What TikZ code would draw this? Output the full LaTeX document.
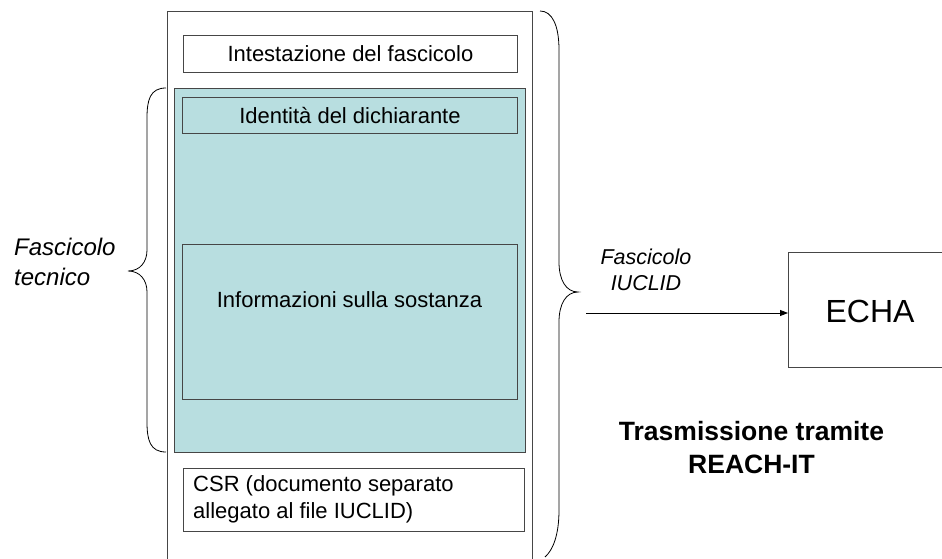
\documentclass[tikz,border=0pt]{standalone}
\usepackage{fontspec}
\setmainfont{Liberation Sans}
\usetikzlibrary{arrows.meta}
\definecolor{tealfill}{RGB}{184,222,224}
\definecolor{edgegray}{RGB}{70,70,70}
\begin{document}
\begin{tikzpicture}[x=1pt,y=-1pt,
  box/.style={draw=edgegray, line width=0.9pt, inner sep=0pt, anchor=north west},
  boxtext/.style={font=\fontsize{22}{27}\selectfont, inner sep=0pt},
  lab/.style={font=\fontsize{24}{30}\selectfont\itshape, inner sep=0pt, align=left},
  brace/.style={draw=black, line width=0.8pt},
  conn/.style={draw=black, line width=0.9pt, -{Triangle[length=8pt,width=6pt]}}]
\clip (0,0) rectangle (942,559);
\fill[white] (0,0) rectangle (942,559);
% outer box
\node[box, minimum width=365pt, minimum height=560pt] (outer) at (167,11) {};
% header
\node[box, minimum width=334pt, minimum height=37pt] (head) at (183,35) {};
\node[boxtext] (headt) at (head.center) {Intestazione del fascicolo};
% teal area
\node[box, fill=tealfill, minimum width=351pt, minimum height=364pt] (teal) at (174,88) {};
\node[box, minimum width=335pt, minimum height=36pt] (ident) at (182,97) {};
\node[boxtext] (identt) at (ident.center) {Identità del dichiarante};
\node[box, minimum width=335pt, minimum height=155pt] (info) at (182,244) {};
\node[boxtext] (infot) at (349.5,300) {Informazioni sulla sostanza};
% CSR
\node[box, minimum width=341pt, minimum height=63pt] (csr) at (183,468) {};
\node[boxtext, anchor=west, align=left] (csrt) at (193,499.5) {CSR (documento separato\\allegato al file IUCLID)};
% left brace
\draw[brace] (166,88) .. controls (150,88) and (147,100) .. (147,118)
  -- (147,250) .. controls (147,262) and (140,271) .. (128,271)
  .. controls (140,271) and (147,280) .. (147,292)
  -- (147,422) .. controls (147,440) and (150,452) .. (166,452);
\node[lab, anchor=west] (ftec) at (14,262) {Fascicolo\\tecnico};
% right brace
\draw[brace] (540,11) .. controls (552,11) and (559,25) .. (559,50)
  -- (559,262) .. controls (559,280) and (566,292) .. (578,292)
  .. controls (566,292) and (559,304) .. (559,322)
  -- (559,510) .. controls (559,535) and (553,550) .. (545,557);
% arrow and ECHA
\node[box, minimum width=170pt, minimum height=115pt] (echa) at (788,252) {};
\node[font=\fontsize{32}{36}\selectfont, inner sep=0pt] (echat) at (870,311) {ECHA};
\coordinate (src) at (586,313);
\draw[conn] (src) -- (src -| echa.west);
\node[font=\fontsize{21.5}{26}\selectfont\itshape, inner sep=0pt, align=center] (fiu) at (646,270) {Fascicolo\\IUCLID};
\node[font=\fontsize{26.5}{33.5}\selectfont\bfseries, inner sep=0pt, align=center] (trans) at (751.5,447.5) {Trasmissione tramite\\REACH-IT};
\end{tikzpicture}
\end{document}
